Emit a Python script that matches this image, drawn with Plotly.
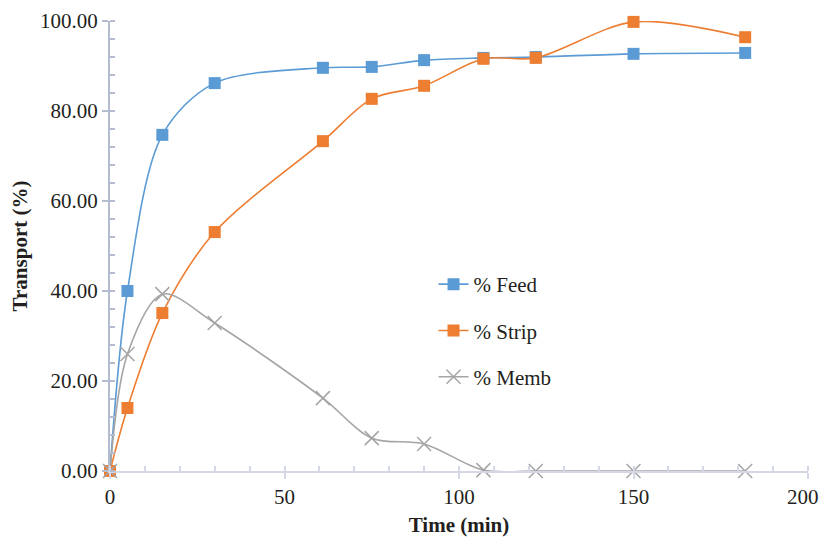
import plotly.graph_objects as go

time_min = [0, 5, 15, 30, 61, 75, 90, 107, 122, 150, 182]
feed = [0.0, 40.0, 74.7, 86.2, 89.6, 89.8, 91.3, 91.8, 92.0, 92.7, 92.9]
strip = [0.0, 14.0, 35.1, 53.1, 73.3, 82.7, 85.6, 91.6, 91.8, 99.8, 96.4]
memb = [0.0, 26.0, 39.3, 32.9, 16.2, 7.3, 6.0, 0.2, 0.0, 0.0, 0.0]

x_tickvals = [0, 50, 100, 150, 200]
x_ticktext = ["0", "50", "100", "150", "200\u00a0\u00a0"]
y_tickvals = [0, 20, 40, 60, 80, 100]

series_names = ["% Feed", "% Strip", "% Memb"]
colors = ["#5b9bd5", "#ed7d31", "#a5a5a5"]
symbols = ["square", "square", "x-thin"]

fig = go.Figure()
for i, (name, ys) in enumerate(zip(series_names, [feed, strip, memb])):
    marker = dict(symbol=symbols[i], size=12, color=colors[i])
    if symbols[i] == "x-thin":
        marker = dict(symbol="x-thin", size=14, color=colors[i],
                      line=dict(color=colors[i], width=1.5))
    fig.add_trace(go.Scatter(
        x=time_min, y=ys, name=name, mode="lines+markers",
        line=dict(color=colors[i], width=1.6, shape="spline", smoothing=0.9),
        marker=marker, cliponaxis=False, legendgroup=name,
    ))

fam = "'Liberation Serif', 'Times New Roman', serif"
txt = "#231f20"
fig.update_layout(
    width=819, height=529,
    margin=dict(l=102, r=19, t=13, b=66, autoexpand=False),
    plot_bgcolor="white", paper_bgcolor="white",
    font=dict(family=fam, size=21, color=txt),
    showlegend=True,
    legend=dict(x=0.4635, y=0.46, xanchor="left", yanchor="top",
                bgcolor="rgba(0,0,0,0)", traceorder="grouped",
                tracegroupgap=16,
                font=dict(family=fam, size=21, color=txt)),
    xaxis=dict(range=[0, 200], tickvals=x_tickvals, ticktext=x_ticktext,
               automargin=False, ticklabeloverflow="allow",
               showgrid=False, zeroline=False, showline=True,
               linecolor="#d3d8e4", linewidth=2,
               ticks="outside", ticklen=6, tickcolor="#d3d8e4", tickwidth=1.5,
               tickfont=dict(family=fam, size=21, color=txt),
               minor=dict(dtick=10, ticks="inside", ticklen=5,
                          tickcolor="#d3d8e4", showgrid=False),
               title=dict(text="<b>Time (min)</b>", standoff=11,
                          font=dict(family=fam, size=21, color=txt))),
    yaxis=dict(range=[0, 100], tickvals=y_tickvals,
               tickformat=".2f", automargin=False,
               showgrid=False, zeroline=False, showline=True,
               linecolor="#b4bdd0", linewidth=2,
               ticks="outside", ticklen=6, tickcolor="#b4bdd0", tickwidth=1.5,
               tickfont=dict(family=fam, size=21, color=txt),
               minor=dict(dtick=4, ticks="inside", ticklen=5,
                          tickcolor="#b4bdd0", showgrid=False),
               title=dict(text="<b>Transport (%)</b>", standoff=8,
                          font=dict(family=fam, size=21, color=txt))),
)

fig.write_html("out.html")
